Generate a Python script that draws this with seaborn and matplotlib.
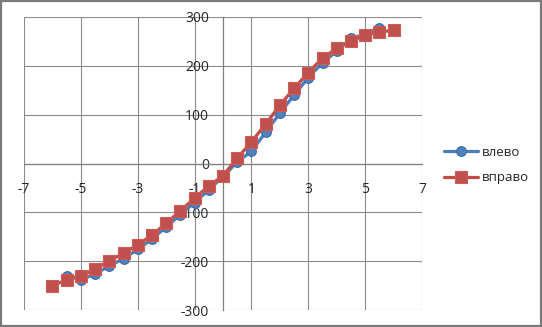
import matplotlib
matplotlib.use("Agg")
import matplotlib.pyplot as plt
import seaborn as sns
import pandas as pd
from matplotlib.patches import Rectangle

# ---- data ----
left_x = [-5.5, -5, -4.5, -4, -3.5, -3, -2.5, -2, -1.5, -1, -0.5, 0, 0.5, 1, 1.5,
          2, 2.5, 3, 3.5, 4, 4.5, 5, 5.5]
left_y = [-230, -238, -226, -210, -195, -176, -155, -130, -105, -80, -54, -27, 3, 25, 64,
          103, 140, 176, 206, 230, 256, 265, 278]
right_x = [-6, -5.5, -5, -4.5, -4, -3.5, -3, -2.5, -2, -1.5, -1, -0.5, 0, 0.5, 1, 1.5,
           2, 2.5, 3, 3.5, 4, 4.5, 5, 5.5, 6]
right_y = [-250, -238, -230, -216, -199, -184, -166, -147, -122, -97, -71, -46, -25, 11, 44, 81,
           119, 154, 186, 216, 236, 250, 263, 269, 273]
label_left = "влево"
label_right = "вправо"
x_ticks = [-7, -5, -3, -1, 1, 3, 5, 7]
y_ticks = [-300, -200, -100, 0, 100, 200, 300]

sns.set_style("white")
plt.rcParams['font.family'] = ['Open Sans', 'DejaVu Sans']
plt.rcParams['font.size'] = 10

W, H = 542, 327
fig = plt.figure(figsize=(W / 100, H / 100), dpi=100)
ax = fig.add_axes([24 / W, 1 - 310 / H, (422 - 24) / W, (310 - 17) / H])

df_l = pd.DataFrame({"x": left_x, "y": left_y})
df_r = pd.DataFrame({"x": right_x, "y": right_y})

grid_c = "#8c8c8c"
ax.set_xlim(-7, 7)
ax.set_ylim(-300, 300)
ax.set_xticks(x_ticks)
ax.set_yticks(y_ticks)
ax.grid(True, color=grid_c, linewidth=0.8)
ax.set_axisbelow(True)

sns.lineplot(data=df_l, x="x", y="y", ax=ax, sort=False, color="#4A7EBB",
             linewidth=2.3, marker="o", markersize=7, markerfacecolor="#4F81BD",
             markeredgecolor="#3A6AA6", markeredgewidth=0.8, label=label_left,
             legend=False, zorder=3)
sns.lineplot(data=df_r, x="x", y="y", ax=ax, sort=False, color="#BE4B48",
             linewidth=2.3, marker="s", markersize=8.5, markerfacecolor="#C0504D",
             markeredgecolor="#CF5C59", markeredgewidth=0.8, label=label_right,
             legend=False, zorder=4)

for s in ["top", "right"]:
    ax.spines[s].set_visible(False)
ax.spines["left"].set_position(("data", 0))
ax.spines["bottom"].set_position(("data", 0))
ax.spines["left"].set_color("#808080")
ax.spines["bottom"].set_color("#808080")
ax.spines["left"].set_linewidth(0.9)
ax.spines["bottom"].set_linewidth(0.9)
ax.tick_params(axis="y", direction="out", length=4, width=0.8, color="#808080",
               pad=6, labelsize=10, labelcolor="#262626")
ax.tick_params(axis="x", direction="out", length=4, width=0.8, color="#808080",
               pad=9, labelsize=10, labelcolor="#262626")
ax.set_xticklabels([str(v) for v in x_ticks])
ax.set_yticklabels([str(v) for v in y_ticks])
ax.set_xlabel("")
ax.set_ylabel("")

handles, labels = ax.get_legend_handles_labels()
fig.legend(handles, labels, loc="center left",
           bbox_to_anchor=(444 / W, 1 - 165 / H), frameon=False, borderpad=0,
           borderaxespad=0, handlelength=2.6, labelspacing=0.95, handletextpad=0.25,
           fontsize=9.5)

fig.patches.append(Rectangle((0.002, 0.003), 0.996, 0.994, transform=fig.transFigure,
                             fill=False, edgecolor="#7a7a7a", linewidth=1.6))

fig.savefig("out.png", dpi=100)
